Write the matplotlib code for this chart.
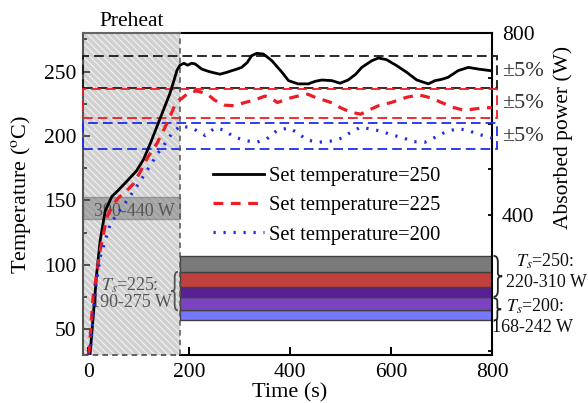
import matplotlib
matplotlib.use('Agg')
import matplotlib.pyplot as plt
from matplotlib.path import Path
from matplotlib.patches import PathPatch, Rectangle
from matplotlib.ticker import MultipleLocator, FixedLocator

plt.rcParams['font.family'] = ['Liberation Serif', 'DejaVu Serif']
plt.rcParams['mathtext.fontset'] = 'stix'
plt.rcParams['lines.scale_dashes'] = False
plt.rcParams['hatch.linewidth'] = 0.8

# ---------------- data ----------------
set_temps = [250, 225, 200]
tolerance = 0.05
preheat_end = 182
time_min, time_max = -10, 800

t_250 = [0, 4, 10, 17, 24, 34, 47, 60, 77, 96, 110, 123, 136, 149, 162, 170, 176, 182,
         190, 197, 205, 212, 225, 240, 261, 275, 285, 295, 304, 315, 324, 334, 347, 356,
         364, 374, 384, 397, 416, 436, 450, 463, 483, 499, 515, 530, 542, 562, 575, 591,
         611, 631, 651, 674, 687, 700, 713, 733, 753, 773, 796, 800]
T_250 = [30, 31, 59, 93, 119, 142, 153, 158, 165, 173, 182, 194, 207, 220, 233, 243, 251, 255,
         256.5, 255, 256.5, 256, 252, 250, 248, 249.5, 250.8, 252, 253.3, 257, 262.4, 264.2, 263.7, 261,
         258.5, 254, 249.5, 243, 240.5, 240.5, 242.5, 243.5, 243, 241, 243.5, 248, 253.3, 258.5, 260.6, 259.3,
         254.7, 249.5, 243.5, 240.5, 243, 244, 245.6, 250.8, 253.3, 252, 250.8, 250.5]

t_225 = [0, 2, 10, 24, 37, 50, 60, 75, 90, 103, 119, 136, 149, 162, 172, 180,
         185, 200, 215, 235, 250, 270, 290, 310, 330, 350, 360, 375, 395, 415, 435, 450,
         470, 485, 500, 520, 540, 555, 575, 600, 630, 655, 680, 700, 725, 745, 765, 785, 800]
T_225 = [30, 33, 75, 111, 137, 147, 152, 157, 163, 172, 184, 194, 204, 215, 224, 228,
         229, 234, 235, 233, 228, 224, 223.5, 226, 228, 231, 230, 226, 229, 231, 232.5, 230,
         227.5, 225.5, 222, 218.5, 217, 220, 223.5, 226, 230, 232, 229.5, 226, 222, 220, 221, 222, 222]

t_200 = [0, 4, 14, 24, 44, 70, 86, 100, 113, 126, 139, 152, 166, 180,
         185, 209, 232, 251, 268, 288, 311, 334, 354, 374, 397, 413, 433, 456, 479, 499,
         515, 539, 558, 581, 601, 621, 644, 667, 687, 707, 730, 750, 770, 796, 800]
T_200 = [30, 31, 80, 106, 132, 146, 155, 163, 171, 179, 187, 194, 202, 207,
         208, 205.6, 200.4, 206.3, 204.8, 199.6, 196.5, 195.2, 197.8, 204.3, 206.3, 203, 197, 195.2, 196, 198,
         201.7, 206.8, 205.6, 203.7, 200.9, 199, 195.7, 195.2, 199, 203, 205.6, 204.8, 201.7, 199, 198.5]

labels = ['Set temperature=250', 'Set temperature=225', 'Set temperature=200']

preheat_power = (390, 440)
power_250 = (220, 310)
power_225 = (190, 275)
power_200 = (168, 242)

# ---------------- styles ----------------
line_colors = {250: '#000000', 225: '#ee1c24', 200: '#1f2ee6'}
range_colors = {250: '#1a1a1a', 225: '#ee1c24', 200: '#1f2ee6'}
band_colors = {
    frozenset([250]): '#7a7a7a',
    frozenset([250, 225]): '#c0403e',
    frozenset([250, 225, 200]): '#5a1e95',
    frozenset([225, 200]): '#7c44c0',
    frozenset([200]): '#7878ff',
    frozenset([225]): '#d04040',
}

fig = plt.figure(figsize=(5.88, 4.03), dpi=100)
ax = fig.add_axes([0.1412, 0.1191, 0.6956, 0.799])
ax2 = ax.twinx()
ax.set_zorder(2)
ax2.set_zorder(1)
ax.patch.set_visible(False)

ax.set_xlim(time_min, time_max)
ax.set_ylim(30, 280)
ax2.set_ylim(92, 800)

# ---- power axis layer (below) ----
ax2.axvspan(time_min, preheat_end, facecolor='#d0d0d0', edgecolor='#f2f2f2',
            linewidth=0, hatch='\\\\\\\\\\', zorder=0.5)
ax2.fill_between([time_min, preheat_end], preheat_power[0], preheat_power[1],
                 facecolor='#777777', alpha=0.5, edgecolor='#666666', linewidth=1, zorder=1)

ranges = {250: power_250, 225: power_225, 200: power_200}
bounds = sorted(set([v for r in ranges.values() for v in r]))
for lo, hi in zip(bounds[:-1], bounds[1:]):
    mid = (lo + hi) / 2
    members = frozenset([k for k, (a, b) in ranges.items() if a <= mid <= b])
    if not members:
        continue
    ax2.fill_between([preheat_end, time_max], lo, hi, facecolor=band_colors[members],
                     edgecolor='#404040', linewidth=1, zorder=2)

# ---- temperature axis layer (top) ----
ax.plot(t_250, T_250, color=line_colors[250], lw=2.0, label=labels[0], zorder=4)
ax.plot(t_225, T_225, color=line_colors[225], lw=2.3, ls=(0, (7, 5.5)), label=labels[1], zorder=4)
ax.plot(t_200, T_200, color=line_colors[200], lw=2.3, ls=(0, (1.6, 5.6)), label=labels[2], zorder=4)

x_ext = 810
for T in set_temps:
    ax.add_patch(Rectangle((time_min, T * (1 - tolerance)), x_ext - time_min, 2 * tolerance * T,
                           fill=False, edgecolor=range_colors[T], lw=1.3, ls=(0, (7, 3.6)),
                           clip_on=False, zorder=3))
    ax.text(819, T, '\u00b15%', fontsize=16, color='#333333', ha='left', va='center')

# preheat region borders
ax.axvline(preheat_end, color='#555555', lw=1.1, ls=(0, (4, 3)), zorder=3)
ax.plot([time_min, preheat_end], [30, 30], color='#555555', lw=1.3, ls=(0, (4, 3)),
        clip_on=False, zorder=3)
ax.plot([time_min, preheat_end], [280, 280], color='#666666', lw=1.5, clip_on=False, zorder=3)

# spines
ax.spines['bottom'].set_bounds(preheat_end, time_max)
ax.spines['top'].set_bounds(preheat_end, time_max)
ax.spines['left'].set_color('#555555')
for s in ['top', 'bottom', 'right']:
    ax.spines[s].set_color('black')
for s in ax.spines.values():
    s.set_linewidth(1.5)
for s in ['top', 'bottom', 'left']:
    ax2.spines[s].set_visible(False)
ax2.spines['right'].set_linewidth(1.5)
ax.spines['right'].set_visible(False)

# ticks
ax.xaxis.set_major_locator(FixedLocator([0, 200, 400, 600, 800]))
ax.yaxis.set_major_locator(MultipleLocator(50))
ax.yaxis.set_minor_locator(MultipleLocator(25))
ax.tick_params(axis='x', direction='in', length=6, width=1.4, labelsize=15.5, pad=6)
ax.tick_params(axis='y', which='major', direction='in', length=5, width=1.3, labelsize=15.5,
               pad=5, color='#444444')
ax.tick_params(axis='y', which='minor', direction='in', length=3, width=1.3, color='#444444')
ax.tick_params(axis='x', which='both', top=False)

ax2.yaxis.set_major_locator(FixedLocator([400, 800]))
ax2.yaxis.set_minor_locator(MultipleLocator(100))
ax2.tick_params(axis='y', which='both', direction='in', length=3, width=1.3, labelsize=15.5, pad=7)

ax.set_xlabel('Time (s)', fontsize=16)
ax.xaxis.set_label_coords(0.506, -0.088)
ax.set_ylabel('Temperature ($^{\\rm o}$C)', fontsize=16)
ax.yaxis.set_label_coords(-0.122, 0.5)
ax2.set_ylabel('Absorbed power (W)', fontsize=15.5)
ax2.yaxis.set_label_coords(1.149, 0.677)

ax.text((time_min + preheat_end) / 2, 1.037, 'Preheat', fontsize=15.5, ha='center', va='center',
        transform=ax.get_xaxis_transform())

# legend
ax.legend(loc='upper left', bbox_to_anchor=(0.318, 0.585), frameon=False, fontsize=14.8,
          handlelength=2.5, handletextpad=0.2, labelspacing=0.48, borderpad=0, borderaxespad=0)


# braces
def brace(axis, x0, y0, y1, w, color, lw=1.3):
    h = y1 - y0
    ym = (y0 + y1) / 2
    xm = x0 + w / 2
    xt = x0 + w
    verts = [(x0, y1), (xm, y1), (xm, y1 - 0.15 * h), (xm, ym + 0.08 * h), (xm, ym), (xt, ym),
             (xm, ym), (xm, ym - 0.08 * h), (xm, y0 + 0.15 * h), (xm, y0), (x0, y0)]
    codes = [Path.MOVETO, Path.CURVE3, Path.CURVE3, Path.LINETO, Path.CURVE3, Path.CURVE3,
             Path.CURVE3, Path.CURVE3, Path.LINETO, Path.CURVE3, Path.CURVE3]
    axis.add_patch(PathPatch(Path(verts, codes), fill=False, edgecolor=color, lw=lw,
                             clip_on=False, zorder=5))


brace(ax2, 803, power_250[0], power_250[1], 17, '#222222')
brace(ax2, 803, power_200[0], power_250[0] - 3, 15, '#222222')
brace(ax2, 178, power_225[0], power_225[1], -13, '#555555')

ax2.text(905, 297, '$T_s$=250:', fontsize=13, ha='center', va='center', color='#111111')
ax2.text(907, 251, '220-310 W', fontsize=13, ha='center', va='center', color='#111111')
ax2.text(885, 199, '$T_s$=200:', fontsize=13, ha='center', va='center', color='#111111')
ax2.text(881, 152, '168-242 W', fontsize=13, ha='center', va='center', color='#111111')
ax2.text(83, 246, '$T_s$=225:', fontsize=13, ha='center', va='center', color='#555555', zorder=3)
ax2.text(85, 207, '190-275 W', fontsize=13, ha='center', va='center', color='#555555', zorder=3)
ax2.text(91, 407, '390-440 W', fontsize=13, ha='center', va='center', color='#555555', zorder=3)

fig.savefig('out.png', dpi=100)
